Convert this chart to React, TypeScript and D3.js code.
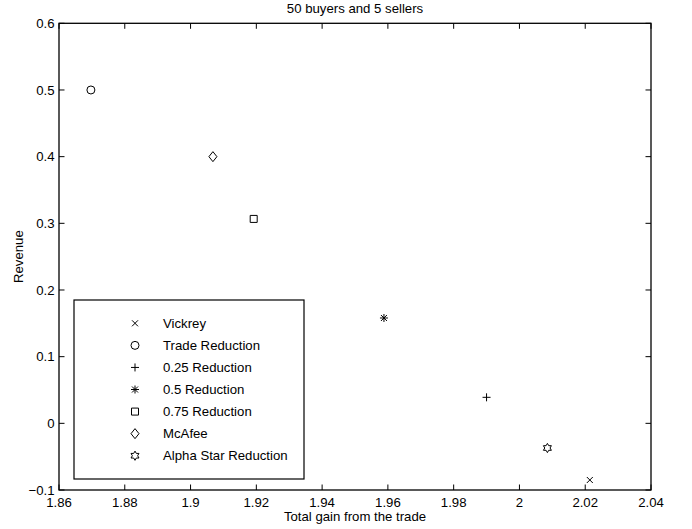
import React from "react";
import * as d3 from "d3";

const methods = ["Vickrey", "Trade Reduction", "0.25 Reduction", "0.5 Reduction", "0.75 Reduction", "McAfee", "Alpha Star Reduction"];
const gains = [2.0214, 1.8697, 1.990, 1.9588, 1.9192, 1.9068, 2.0085];
const revenues = [-0.085, 0.5, 0.039, 0.158, 0.3066, 0.4, -0.037];
const markers = ["x", "o", "+", "*", "s", "d", "h"];
const xTicks = [1.86, 1.88, 1.9, 1.92, 1.94, 1.96, 1.98, 2, 2.02, 2.04];
const yTicks = [-0.1, 0, 0.1, 0.2, 0.3, 0.4, 0.5, 0.6];
const xTickLabels = ["1.86", "1.88", "1.9", "1.92", "1.94", "1.96", "1.98", "2", "2.02", "2.04"];
const yTickLabels = ["\u22120.1", "0", "0.1", "0.2", "0.3", "0.4", "0.5", "0.6"];

const W = 692, H = 529;
const L = 59, R = 651, T = 23.3, B = 490;
const FONT = "'Liberation Sans', Arial, Helvetica, sans-serif";
const FS = 13.2;

function markerPath(m: string, cx: number, cy: number): string {
  const p = d3.path();
  if (m === "x") {
    const s = 3;
    p.moveTo(cx - s, cy - s); p.lineTo(cx + s, cy + s);
    p.moveTo(cx - s, cy + s); p.lineTo(cx + s, cy - s);
  } else if (m === "o") {
    p.moveTo(cx + 4, cy); p.arc(cx, cy, 4, 0, Math.PI * 2);
  } else if (m === "+") {
    const s = 4;
    p.moveTo(cx - s, cy); p.lineTo(cx + s, cy);
    p.moveTo(cx, cy - s); p.lineTo(cx, cy + s);
  } else if (m === "*") {
    const s = 4, d = 3;
    p.moveTo(cx - s, cy); p.lineTo(cx + s, cy);
    p.moveTo(cx, cy - s); p.lineTo(cx, cy + s);
    p.moveTo(cx - d, cy - d); p.lineTo(cx + d, cy + d);
    p.moveTo(cx - d, cy + d); p.lineTo(cx + d, cy - d);
  } else if (m === "s") {
    const s = 3.5;
    p.rect(cx - s, cy - s, 2 * s, 2 * s);
  } else if (m === "d") {
    const w = 4, h = 5;
    p.moveTo(cx, cy - h); p.lineTo(cx + w, cy); p.lineTo(cx, cy + h); p.lineTo(cx - w, cy); p.closePath();
  } else if (m === "h") {
    const ro = 4.6, ri = 2.65;
    for (let i = 0; i < 12; i++) {
      const r = i % 2 === 0 ? ro : ri;
      const a = -Math.PI / 2 + (i * Math.PI) / 6;
      const x = cx + r * Math.cos(a), y = cy + r * Math.sin(a);
      if (i === 0) p.moveTo(x, y); else p.lineTo(x, y);
    }
    p.closePath();
  }
  return p.toString();
}

export default function App() {
  const x = d3.scaleLinear().domain([1.86, 2.04]).range([L, R]);
  const y = d3.scaleLinear().domain([-0.1, 0.6]).range([B, T]);
  const tl = 5.5;
  const legX = 74, legY = 300, legW = 230, legH = 179;
  const rowY0 = 323.3, rowStep = 22.07;

  return (
    <svg width={W} height={H} style={{ position: "absolute", left: 0, top: 0, background: "#fff" }}>
      <rect x={0} y={0} width={W} height={H} fill="#fff" />
      <text x={(L + R) / 2} y={13.3} textAnchor="middle" fontFamily={FONT} fontSize={FS}>50 buyers and 5 sellers</text>
      {xTicks.map((t, i) => (
        <g key={"xt" + i}>
          <line x1={x(t)} x2={x(t)} y1={B} y2={B - tl} stroke="#000" />
          <line x1={x(t)} x2={x(t)} y1={T} y2={T + tl} stroke="#000" />
          <text x={x(t)} y={506.7} textAnchor="middle" fontFamily={FONT} fontSize={FS}>{xTickLabels[i]}</text>
        </g>
      ))}
      {yTicks.map((t, i) => (
        <g key={"yt" + i}>
          <line x1={L} x2={L + tl} y1={y(t)} y2={y(t)} stroke="#000" />
          <line x1={R} x2={R - tl} y1={y(t)} y2={y(t)} stroke="#000" />
          <text x={54.5} y={y(t) + 4.7} textAnchor="end" fontFamily={FONT} fontSize={FS}>{yTickLabels[i]}</text>
        </g>
      ))}
      <rect x={L} y={T} width={R - L} height={B - T} fill="none" stroke="#000" strokeWidth={1.3} />
      <text x={(L + R) / 2} y={520.9} textAnchor="middle" fontFamily={FONT} fontSize={FS}>Total gain from the trade</text>
      <text transform={`translate(22.5,${(T + B) / 2}) rotate(-90)`} textAnchor="middle" fontFamily={FONT} fontSize={FS}>Revenue</text>
      {methods.map((m, i) => (
        <path key={"pt" + i} d={markerPath(markers[i], x(gains[i]), y(revenues[i]))} fill="none" stroke="#000" strokeWidth={1} />
      ))}
      <rect x={legX} y={legY} width={legW} height={legH} fill="#fff" stroke="#000" strokeWidth={1.2} />
      {methods.map((m, i) => (
        <g key={"lg" + i}>
          <path d={markerPath(markers[i], 135, rowY0 + i * rowStep)} fill="none" stroke="#000" strokeWidth={1} />
          <text x={163} y={rowY0 + i * rowStep + 4.7} fontFamily={FONT} fontSize={FS}>{m}</text>
        </g>
      ))}
    </svg>
  );
}
